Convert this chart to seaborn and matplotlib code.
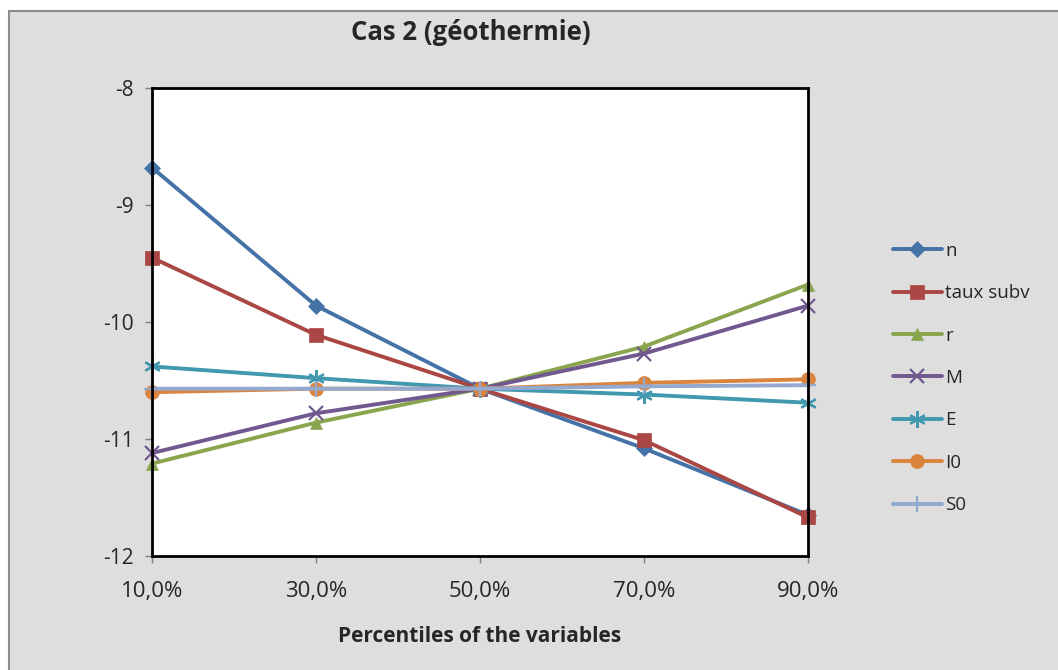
import pandas as pd
import numpy as np
import matplotlib
matplotlib.use("Agg")
import matplotlib.pyplot as plt
import seaborn as sns
from matplotlib.patches import Rectangle

# Data
percentiles = [10, 30, 50, 70, 90]
tick_labels = ["10,0%", "30,0%", "50,0%", "70,0%", "90,0%"]

n_vals = [-8.68, -9.86, -10.57, -11.08, -11.65]
taux_vals = [-9.45, -10.11, -10.57, -11.01, -11.67]
r_vals = [-11.21, -10.86, -10.57, -10.21, -9.68]
m_vals = [-11.12, -10.78, -10.57, -10.27, -9.86]
e_vals = [-10.38, -10.48, -10.57, -10.62, -10.69]
i0_vals = [-10.60, -10.57, -10.57, -10.52, -10.49]
s0_vals = [-10.57, -10.57, -10.57, -10.55, -10.54]

series = ["n", "taux subv", "r", "M", "E", "I0", "S0"]
values = [n_vals, taux_vals, r_vals, m_vals, e_vals, i0_vals, s0_vals]

colors = {"n": "#4572A7", "taux subv": "#AA4643", "r": "#89A54E", "M": "#71588F",
          "E": "#4198AF", "I0": "#DB843D", "S0": "#93A9CF"}
markers = {"n": "D", "taux subv": "s", "r": "^", "M": "x",
           "E": (6, 2, 0), "I0": "o", "S0": "+"}
msizes = {"n": 8, "taux subv": 10, "r": 9, "M": 10, "E": 12, "I0": 10, "S0": 12}

df = pd.DataFrame({
    "pct": percentiles * len(series),
    "val": sum(values, []),
    "var": np.repeat(series, len(percentiles)),
})

sns.set_style("white")
plt.rcParams["font.family"] = ["Open Sans", "DejaVu Sans"]

fig = plt.figure(figsize=(10.58, 6.70), dpi=100)
fig.patch.set_facecolor("white")
fig.patches.append(Rectangle((9 / 1058, -0.05), 1.1, 1.05 - 11 / 670, transform=fig.transFigure,
                             facecolor="#DEDEDE", edgecolor="#8C8C8C", linewidth=1.5,
                             zorder=-10))

ax = fig.add_axes([152 / 1058, 1 - 556 / 670, (808 - 152) / 1058, (556 - 88) / 670])
ax.set_facecolor("white")

for name in series:
    sub = df[df["var"] == name]
    mk = markers[name]
    thin = mk in ("x", "+") or mk == (6, 2, 0)
    sns.lineplot(data=sub, x="pct", y="val", ax=ax, color=colors[name], linewidth=2.8,
                 marker=mk, markersize=msizes[name], markeredgewidth=1.6 if thin else 0.5,
                 markeredgecolor=colors[name], label=name, clip_on=False)

ax.set_xlim(10, 90)
ax.set_ylim(-12, -8)
ax.set_xticks(percentiles)
ax.set_xticklabels(tick_labels, fontsize=16)
ax.set_yticks([-12, -11, -10, -9, -8])
ax.set_yticklabels(["-12", "-11", "-10", "-9", "-8"], fontsize=15)
ax.tick_params(axis="both", direction="out", length=5, width=1, color="#808080",
               left=True, bottom=True)
ax.tick_params(axis="x", pad=13)
ax.tick_params(axis="y", pad=8)
for sp in ax.spines.values():
    sp.set_color("black")
    sp.set_linewidth(2)

ax.set_xlabel("Percentiles of the variables", fontsize=15, fontweight="bold", labelpad=17)
ax.set_ylabel("")
fig.text(471 / 1058, 1 - 33 / 670, "Cas 2 (géothermie)", fontsize=18.5, fontweight="bold",
         ha="center", va="center")

handles, labels = ax.get_legend_handles_labels()
ax.get_legend().remove()
fig.legend(handles, labels, loc="center left", bbox_to_anchor=(876 / 1058, 1 - 378 / 670),
           frameon=False, fontsize=13.5, labelspacing=1.3, handlelength=2.6,
           handletextpad=0.2)

fig.savefig("out.png", dpi=100, facecolor=fig.get_facecolor())
